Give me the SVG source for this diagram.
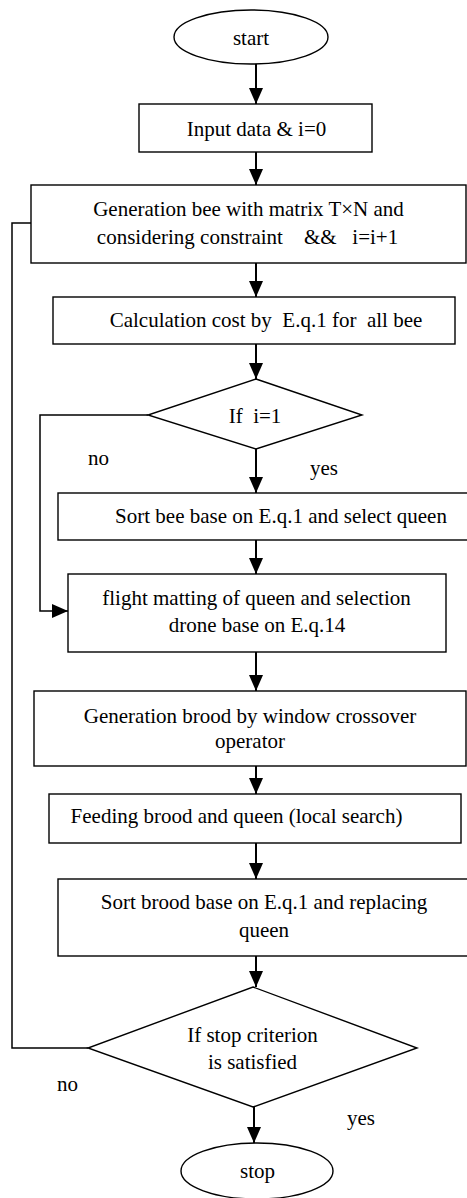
<svg xmlns="http://www.w3.org/2000/svg" width="467" height="1198" viewBox="0 0 467 1198">
<style>
.box{fill:#fff;stroke:#000;stroke-width:1.4}
.t{font-family:"Liberation Serif","Times New Roman",serif;font-size:21px;fill:#000;text-anchor:middle}
.l{font-family:"Liberation Serif","Times New Roman",serif;font-size:21px;fill:#000}
.c{fill:none;stroke:#000;stroke-width:2}
.c1{fill:none;stroke:#000;stroke-width:1.5}
</style>
<defs>
<marker id="ah" viewBox="0 0 16 14" refX="16" refY="7" markerWidth="16" markerHeight="14" markerUnits="userSpaceOnUse" orient="auto">
<path d="M0,0 L16,7 L0,14 z" fill="#000"/>
</marker>
</defs>
<rect width="467" height="1198" fill="#fff"/>
<g id="connectors">
<line class="c" x1="256" y1="63" x2="256" y2="104" marker-end="url(#ah)"/>
<line class="c" x1="256" y1="152" x2="256" y2="185" marker-end="url(#ah)"/>
<line class="c" x1="256" y1="263" x2="256" y2="297" marker-end="url(#ah)"/>
<line class="c" x1="256" y1="344" x2="256" y2="379" marker-end="url(#ah)"/>
<line class="c" x1="256" y1="449" x2="256" y2="493" marker-end="url(#ah)"/>
<line class="c" x1="256" y1="540" x2="256" y2="574" marker-end="url(#ah)"/>
<polyline class="c1" points="148,415 40,415 40,611 68,611" marker-end="url(#ah)"/>
<line class="c" x1="256" y1="652" x2="256" y2="691" marker-end="url(#ah)"/>
<line class="c" x1="256" y1="766" x2="256" y2="794" marker-end="url(#ah)"/>
<line class="c" x1="256" y1="843" x2="256" y2="879" marker-end="url(#ah)"/>
<line class="c" x1="256" y1="956" x2="256" y2="987" marker-end="url(#ah)"/>
<line class="c" x1="254" y1="1107" x2="254" y2="1143" marker-end="url(#ah)"/>
<polyline class="c1" points="88,1048 12,1048 12,223 40,223"/>
<text class="l" x="88" y="465">no</text>
<text class="l" x="310" y="475">yes</text>
<text class="l" x="57" y="1091">no</text>
<text class="l" x="347" y="1125">yes</text>
</g>
<g id="start">
<ellipse class="box" cx="251" cy="37" rx="77" ry="27"/>
<text class="t" x="251" y="45">start</text>
</g>
<g id="input">
<rect class="box" x="139" y="104" width="233" height="48"/>
<text class="t" x="256.5" y="136">Input data &amp; i=0</text>
</g>
<g id="generation">
<rect class="box" x="31" y="185" width="435" height="78"/>
<text class="t" x="248.5" y="216">Generation bee with matrix T×N and</text>
<text class="t" x="247.5" y="244" xml:space="preserve">considering constraint    &amp;&amp;   i=i+1</text>
</g>
<g id="calculation">
<rect class="box" x="53" y="297" width="402" height="47"/>
<text class="t" x="266" y="327" xml:space="preserve">Calculation cost by  E.q.1 for  all bee</text>
</g>
<g id="if1">
<polygon class="box" points="256,379 362,415 256,449 148,415"/>
<text class="t" x="255" y="423" xml:space="preserve">If  i=1</text>
</g>
<g id="sortbee">
<rect class="box" x="58" y="493" width="410" height="47"/>
<text class="t" x="281" y="523">Sort bee base on E.q.1 and select queen</text>
</g>
<g id="flight">
<rect class="box" x="68" y="574" width="378" height="78"/>
<text class="t" x="256.5" y="605">flight matting of queen and selection</text>
<text class="t" x="257" y="632">drone base on E.q.14</text>
</g>
<g id="brood">
<rect class="box" x="34" y="691" width="432" height="75"/>
<text class="t" x="250" y="723">Generation brood by window crossover</text>
<text class="t" x="250" y="748">operator</text>
</g>
<g id="feeding">
<rect class="box" x="49" y="794" width="412" height="49"/>
<text class="t" x="236.5" y="823">Feeding brood and queen (local search)</text>
</g>
<g id="sortbrood">
<rect class="box" x="58" y="879" width="410" height="77"/>
<text class="t" x="264" y="909">Sort brood base on E.q.1 and replacing</text>
<text class="t" x="264" y="937">queen</text>
</g>
<g id="if2">
<polygon class="box" points="253,987 417,1048 253,1107 88,1048"/>
<text class="t" x="252.5" y="1042">If stop criterion</text>
<text class="t" x="252.5" y="1069">is satisfied</text>
</g>
<g id="stop">
<ellipse class="box" cx="257" cy="1171" rx="76" ry="28"/>
<text class="t" x="257.5" y="1178">stop</text>
</g>
</svg>
